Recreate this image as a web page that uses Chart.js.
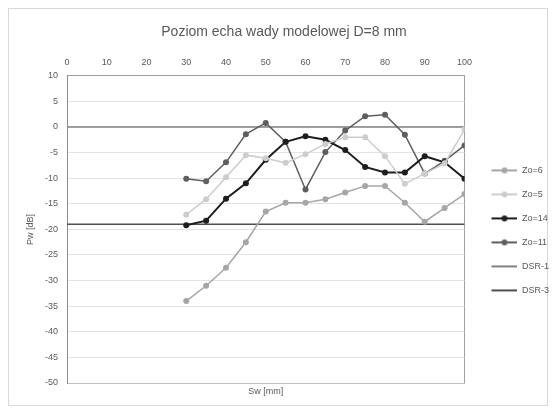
<!DOCTYPE html>
<html>
<head>
<meta charset="utf-8">
<script src="https://cdn.jsdelivr.net/npm/chart.js@4"></script>
<style>
  html, body { margin: 0; padding: 0; background: #fff; }
  #box { position: absolute; left: 8px; top: 8px; width: 538px; height: 396px; border: 1px solid #d9d9d9; }
  #chart { position: absolute; left: 0; top: 0; }
</style>
</head>
<body>
<div id="box"><canvas id="chart" width="552" height="396"></canvas></div>
<script>
// odległość Sw [mm]
const sw = [30, 35, 40, 45, 50, 55, 60, 65, 70, 75, 80, 85, 90, 95, 100]
// poziom echa [dB] dla kolejnych Zo
const zo6 = [-34, -31, -27.5, -22.5, -16.5, -14.8, -14.8, -14.1, -12.8, -11.5, -11.5, -14.8, -18.5, -15.8, -13.1]
const zo5 = [-17.1, -14.1, -9.8, -5.5, -6.1, -7, -5.3, -3.3, -2, -2, -5.7, -11.1, -9.1, -7.1, -0.5]
const zo14 = [-19.2, -18.3, -14, -11, -6.4, -2.9, -1.8, -2.5, -4.5, -7.8, -8.9, -8.9, -5.7, -6.9, -10.1]
const zo11 = [-10.1, -10.6, -6.9, -1.4, 0.8, -2.9, -12.2, -4.9, -0.7, 2.1, 2.4, -1.5, -9.1, -6.6, -3.6]
// krzywe DSR
const dsrX = [0, 100]
const dsr1 = [0, 0]
const dsr3 = [-19, -19]
const xTicks = [0, 100, 10]
const yTicks = [-50, 10, 5]

const pts = (xs, ys) => xs.map((x, i) => ({ x: x, y: ys[i] }))

// ikonka legendy: linia z markerem, przesunięta w prawo
function legendIcon(color, marker) {
  const c = document.createElement('canvas')
  c.width = 38; c.height = 8
  const g = c.getContext('2d')
  g.strokeStyle = color; g.lineWidth = 2
  g.beginPath(); g.moveTo(12, 4); g.lineTo(38, 4); g.stroke()
  if (marker) {
    g.fillStyle = color
    g.beginPath(); g.arc(25, 4, 3, 0, Math.PI * 2); g.fill()
  }
  return c
}

const series = [
  { label: 'Zo=6', data: pts(sw, zo6), color: '#a6a6a6', marker: true, width: 1.5 },
  { label: 'Zo=5', data: pts(sw, zo5), color: '#cdcdcd', marker: true, width: 1.5 },
  { label: 'Zo=14', data: pts(sw, zo14), color: '#1e1e1e', marker: true, width: 2 },
  { label: 'Zo=11', data: pts(sw, zo11), color: '#5e5e5e', marker: true, width: 1.5 },
  { label: 'DSR-1', data: pts(dsrX, dsr1), color: '#808080', marker: false, width: 1.5 },
  { label: 'DSR-3', data: pts(dsrX, dsr3), color: '#4f4f4f', marker: false, width: 1.5 }
]
const icons = series.map(s => legendIcon(s.color, s.marker))

const gray = '#595959'
const small = { family: 'Liberation Sans, Arial, sans-serif', size: 9 }

new Chart(document.getElementById('chart'), {
  type: 'line',
  data: {
    datasets: series.map(s => ({
      label: s.label,
      data: s.data,
      borderColor: s.color,
      backgroundColor: s.color,
      borderWidth: s.width,
      pointRadius: s.marker ? 3 : 0,
      pointHoverRadius: s.marker ? 3 : 0,
      pointBorderWidth: 0,
      tension: 0,
      xAxisID: 'x',
      yAxisID: 'y'
    }))
  },
  options: {
    responsive: false,
    animation: false,
    layout: { padding: { left: 0, right: 2, top: 0, bottom: 2 } },
    plugins: {
      title: {
        display: true,
        text: 'Poziom echa wady modelowej D=8 mm',
        color: gray,
        font: { family: 'Liberation Sans, Arial, sans-serif', size: 14, weight: 'normal' },
        padding: { top: 15, bottom: 13 }
      },
      legend: {
        position: 'right',
        title: { display: true, text: ' ', font: small, padding: { top: 38, bottom: 0 } },
        labels: {
          color: gray,
          font: small,
          usePointStyle: true,
          pointStyleWidth: 38,
          padding: 15,
          generateLabels: chart => Chart.defaults.plugins.legend.labels.generateLabels(chart)
            .map((item, i) => Object.assign(item, { pointStyle: icons[i] }))
        }
      },
      tooltip: { enabled: false }
    },
    scales: {
      x: {
        type: 'linear',
        position: 'top',
        min: xTicks[0], max: xTicks[1],
        ticks: { stepSize: xTicks[2], color: gray, font: small, padding: 8 },
        grid: {
          drawTicks: false,
          color: ctx => ctx.tick && ctx.tick.value === xTicks[1] ? '#a0a0a0' : 'transparent'
        },
        border: { color: '#a0a0a0' },
        afterFit: s => { s.height = 22 }
      },
      x2: {
        type: 'linear',
        position: 'bottom',
        min: xTicks[0], max: xTicks[1],
        ticks: { display: false },
        grid: { display: false, drawTicks: false },
        border: { color: '#bfbfbf' },
        title: { display: true, text: 'Sw [mm]', color: gray, font: small, padding: { top: 0, bottom: 6 } },
        afterFit: s => { s.height = 20 }
      },
      y: {
        min: yTicks[0], max: yTicks[1],
        ticks: { stepSize: yTicks[2], color: gray, font: small, padding: 9 },
        grid: { color: '#e3e3e3', drawTicks: false },
        border: { color: '#8c8c8c' },
        title: { display: true, text: 'Pw [dB]', color: gray, font: small, padding: { top: 16, bottom: 0 } },
        afterFit: s => { s.width = 58 }
      }
    }
  }
})
</script>
</body>
</html>
